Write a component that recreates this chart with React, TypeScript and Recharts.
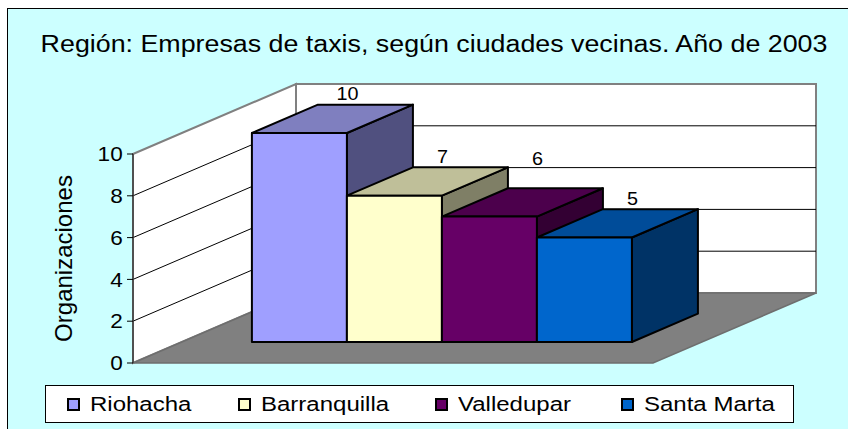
import React from "react";
import { Bar, BarChart, CartesianGrid, LabelList, Legend, XAxis, YAxis } from "recharts";

const TITLE = "Región: Empresas de taxis, según ciudades vecinas. Año de 2003";
const Y_LABEL = "Organizaciones";
const CATEGORIES = ["2003"];
const CITIES = ["Riohacha", "Barranquilla", "Valledupar", "Santa Marta"];
const COMPANIES = [10, 7, 6, 5];
const Y_TICKS = [0, 2, 4, 6, 8, 10];

const data = CATEGORIES.map((name) => {
  const row: Record<string, string | number> = { name };
  CITIES.forEach((city, i) => {
    row[city] = COMPANIES[i];
  });
  return row;
});

// front / top / side colours of each box
const FACES = [
  { front: "#9f9fff", top: "#7f7fbf", side: "#50507f" },
  { front: "#ffffcc", top: "#bfbf99", side: "#7f7f66" },
  { front: "#660066", top: "#4c004c", side: "#330033" },
  { front: "#0066cc", top: "#004c99", side: "#003366" },
];
// Excel pushed the "6" label a bit higher than the others
const LABEL_LIFT = [0, 0, 19, 0];

const W = 848;
const H = 429;
const PLOT = { left: 133, right: 653, top: 154, bottom: 363 };
const DEPTH_X = 163;
const DEPTH_Y = 70;
const BOX_OFF = 0.3;
const BOX_DEPTH = 0.405;
const FONT = '"Liberation Sans", Arial, sans-serif';

const offX = DEPTH_X * BOX_OFF;
const offY = DEPTH_Y * BOX_OFF;
const boxX = DEPTH_X * BOX_DEPTH;
const boxY = DEPTH_Y * BOX_DEPTH;

function Box3D(props: any) {
  const { x, y, width, height, faces } = props;
  if (!height || height <= 0) return <g />;
  const fx = x + offX;
  const fy = y - offY;
  const w = width;
  const h = height;
  const top = `${fx},${fy} ${fx + boxX},${fy - boxY} ${fx + w + boxX},${fy - boxY} ${fx + w},${fy}`;
  const side = `${fx + w},${fy} ${fx + w + boxX},${fy - boxY} ${fx + w + boxX},${fy + h - boxY} ${fx + w},${fy + h}`;
  return (
    <g stroke="#000" strokeWidth={2} strokeLinejoin="round">
      <polygon points={side} fill={faces.side} />
      <polygon points={top} fill={faces.top} />
      <rect x={fx} y={fy} width={w} height={h} fill={faces.front} />
    </g>
  );
}

function WallGridLine(p: any) {
  const { x1, y1, x2, y, height } = p;
  if (Math.abs(y1 - y) < 0.5 || Math.abs(y1 - (y + height)) < 0.5) return <g />;
  return (
    <g stroke="#000" strokeWidth={1}>
      <line x1={x1} y1={y1} x2={x1 + DEPTH_X} y2={y1 - DEPTH_Y} />
      <line x1={x1 + DEPTH_X} y1={y1 - DEPTH_Y} x2={x2 + DEPTH_X} y2={y1 - DEPTH_Y} />
    </g>
  );
}

function YTick(p: any) {
  return (
    <g transform={`translate(${p.x},${p.y})`}>
      <text x={-2} y={0} dy="0.36em" textAnchor="end" fontSize={20} fontFamily={FONT} fill="#000" transform="scale(1.13,1)">
        {p.payload.value}
      </text>
    </g>
  );
}

function YLabel(p: any) {
  const vb = p.viewBox;
  const cx = vb.x + vb.width / 2 + 5.5;
  const cy = vb.y + vb.height / 2;
  return (
    <text x={cx} y={cy} textAnchor="middle" fontSize={24} fontFamily={FONT} fill="#000" transform={`rotate(-90 ${cx} ${cy})`}>
      {Y_LABEL}
    </text>
  );
}

const LEGEND_X = [21, 192, 389, 575];

function LegendBox(props: any) {
  const payload = [...(props.payload || [])].sort(
    (a: any, b: any) => CITIES.indexOf(a.value) - CITIES.indexOf(b.value)
  );
  return (
    <div
      style={{
        position: "relative",
        width: "100%",
        height: "100%",
        boxSizing: "border-box",
        border: "1px solid #000",
        background: "#fff",
        fontFamily: FONT,
      }}
    >
      {payload.map((entry: any, i: number) => (
        <div
          key={entry.value}
          style={{ position: "absolute", left: LEGEND_X[i], top: 0, height: "100%", display: "flex", alignItems: "center" }}
        >
          <span style={{ width: 9, height: 9, border: "2px solid #000", background: entry.color, display: "inline-block" }} />
          <span
            style={{
              marginLeft: 10,
              fontSize: 20,
              lineHeight: 1,
              whiteSpace: "nowrap",
              display: "inline-block",
              transform: "scaleX(1.2)",
              transformOrigin: "left center",
              color: "#000",
            }}
          >
            {entry.value}
          </span>
        </div>
      ))}
    </div>
  );
}

function Backdrop() {
  const bl = PLOT.left + DEPTH_X;
  const br = PLOT.right + DEPTH_X;
  const bt = PLOT.top - DEPTH_Y;
  const bb = PLOT.bottom - DEPTH_Y;
  return (
    <svg width={W} height={H} style={{ position: "absolute", left: 0, top: 0 }}>
      <text
        x={434}
        y={52}
        textAnchor="middle"
        fontSize={23}
        fontFamily={FONT}
        fill="#000"
        transform="translate(434,0) scale(1.166,1) translate(-434,0)"
      >
        {TITLE}
      </text>
      <rect x={bl} y={bt} width={br - bl} height={bb - bt} fill="#fff" stroke="#808080" strokeWidth={2} />
      <polygon
        points={`${PLOT.left},${PLOT.top} ${bl},${bt} ${bl},${bb} ${PLOT.left},${PLOT.bottom}`}
        fill="#fff"
        stroke="#808080"
        strokeWidth={2}
      />
      <polygon
        points={`${PLOT.left},${PLOT.bottom} ${PLOT.right},${PLOT.bottom} ${br},${bb} ${bl},${bb}`}
        fill="#808080"
        stroke="#6e6e6e"
        strokeWidth={1.5}
      />
    </svg>
  );
}

export default function App() {
  return (
    <div style={{ position: "absolute", left: 0, top: 0, width: W, height: H, background: "#fff", overflow: "hidden" }}>
      <div
        style={{
          position: "absolute",
          left: 7,
          top: 8,
          width: W + 20,
          height: H + 20,
          background: "#ccffff",
          border: "1px solid #000",
        }}
      />
      <Backdrop />
      <div style={{ position: "absolute", left: 0, top: 0 }}>
        <BarChart
          width={W}
          height={H}
          data={data}
          margin={{ top: PLOT.top, right: W - PLOT.right, bottom: H - PLOT.bottom, left: 0 }}
          barCategoryGap={70}
          barGap={0}
        >
          <CartesianGrid vertical={false} horizontal={WallGridLine} />
          <XAxis dataKey="name" hide />
          <YAxis
            width={PLOT.left}
            domain={[0, 10]}
            ticks={Y_TICKS}
            interval={0}
            tickSize={6}
            tickLine={{ stroke: "#000" }}
            axisLine={{ stroke: "#404040", strokeWidth: 1.5 }}
            tick={YTick}
            label={{ content: YLabel }}
          />
          <Legend
            layout="horizontal"
            verticalAlign="middle"
            align="center"
            wrapperStyle={{ left: 45, top: 385, width: 749, height: 38 }}
            content={LegendBox}
          />
          {CITIES.map((city, i) => (
            <Bar
              key={city}
              dataKey={city}
              name={city}
              fill={FACES[i].front}
              isAnimationActive={false}
              shape={(p: any) => <Box3D {...p} faces={FACES[i]} />}
            >
              <LabelList
                dataKey={city}
                content={(p: any) => {
                  const vb = p.viewBox || p;
                  const lx = vb.x + vb.width / 2 + 97;
                  const ly = vb.y - 60 - LABEL_LIFT[i];
                  return (
                    <g transform={`translate(${lx},${ly}) scale(1.1,1)`}>
                      <text x={0} y={0} dy="0.35em" textAnchor="middle" fontSize={18} fontFamily={FONT} fill="#000">
                        {p.value}
                      </text>
                    </g>
                  );
                }}
              />
            </Bar>
          ))}
        </BarChart>
      </div>
    </div>
  );
}
